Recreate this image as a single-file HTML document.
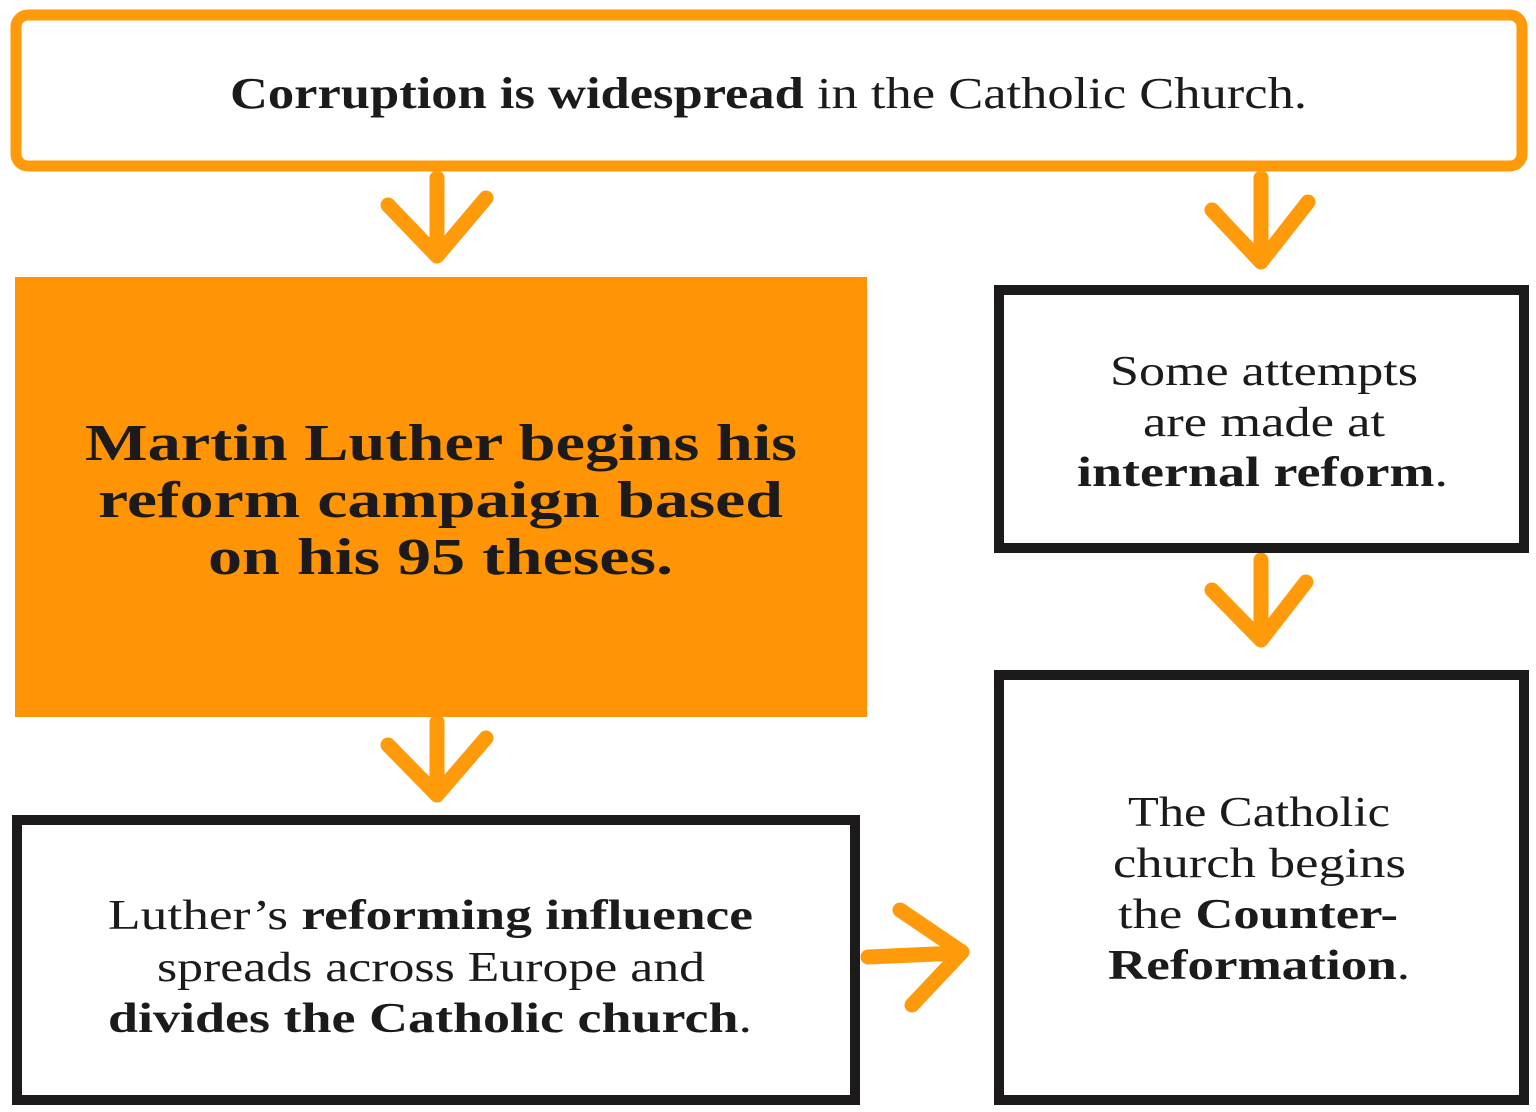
<!DOCTYPE html>
<html><head><meta charset="utf-8"><style>
html,body{margin:0;padding:0;background:#fff;}
svg{display:block;}
text{font-family:"Liberation Serif",serif;fill:#1c1a1a;}
.b{font-weight:bold;}
</style></head><body>
<svg width="1536" height="1112" viewBox="0 0 1536 1112">
<!-- top box -->
<rect x="16" y="15" width="1506" height="151" rx="12" fill="#fff" stroke="#FF9A0A" stroke-width="11"/>
<text x="230" y="108" font-size="44" textLength="1077" lengthAdjust="spacingAndGlyphs"><tspan class="b">Corruption is widespread</tspan> in the Catholic Church.</text>

<!-- arrows -->
<g stroke="#FF9A0A" stroke-width="15" stroke-linecap="round" stroke-linejoin="round" fill="none">
<path d="M437 178 L437 255 M388 205 L437 256 L486 198"/>
<path d="M1261 178 L1261 262 M1212 210 L1261 262 L1308 202"/>
<path d="M1261 560 L1261 640 M1212 590 L1261 640 L1306 582"/>
<path d="M437 722 L437 795 M388 745 L437 795 L486 738"/>
<path d="M868 957 L958 953 M900 910 L962 952 L912 1005"/>
</g>

<!-- orange box -->
<rect x="15" y="277" width="852" height="440" fill="#FF9505"/>
<g class="b" font-size="52">
<text x="85" y="460" class="b" font-size="52" textLength="712" lengthAdjust="spacingAndGlyphs">Martin Luther begins his</text>
<text x="98" y="517" class="b" font-size="52" textLength="685" lengthAdjust="spacingAndGlyphs">reform campaign based</text>
<text x="208" y="574" class="b" font-size="52" textLength="465" lengthAdjust="spacingAndGlyphs">on his 95 theses.</text>
</g>

<!-- right box 1 -->
<rect x="999" y="290" width="525" height="258" fill="#fff" stroke="#1c1a1a" stroke-width="10"/>
<g>
<text x="1110" y="385" font-size="42" textLength="308" lengthAdjust="spacingAndGlyphs">Some attempts</text>
<text x="1143" y="436" font-size="42" textLength="242" lengthAdjust="spacingAndGlyphs">are made at</text>
<text x="1077" y="486" font-size="42" textLength="371" lengthAdjust="spacingAndGlyphs"><tspan class="b">internal reform</tspan>.</text>
</g>

<!-- right box 2 -->
<rect x="999" y="675" width="525" height="425" fill="#fff" stroke="#1c1a1a" stroke-width="10"/>
<g>
<text x="1128" y="826" font-size="42" textLength="262" lengthAdjust="spacingAndGlyphs">The Catholic</text>
<text x="1113" y="877" font-size="42" textLength="293" lengthAdjust="spacingAndGlyphs">church begins</text>
<text x="1118" y="928" font-size="42" textLength="280" lengthAdjust="spacingAndGlyphs">the <tspan class="b">Counter-</tspan></text>
<text x="1108" y="979" font-size="42" textLength="302" lengthAdjust="spacingAndGlyphs"><tspan class="b">Reformation</tspan>.</text>
</g>

<!-- bottom left box -->
<rect x="17" y="820" width="838" height="280" fill="#fff" stroke="#1c1a1a" stroke-width="10"/>
<g>
<text x="108" y="929" font-size="42" textLength="645" lengthAdjust="spacingAndGlyphs">Luther’s <tspan class="b">reforming influence</tspan></text>
<text x="157" y="981" font-size="42" textLength="548" lengthAdjust="spacingAndGlyphs">spreads across Europe and</text>
<text x="108" y="1032" font-size="42" textLength="644" lengthAdjust="spacingAndGlyphs"><tspan class="b">divides the Catholic church</tspan>.</text>
</g>
</svg>
</body></html>
